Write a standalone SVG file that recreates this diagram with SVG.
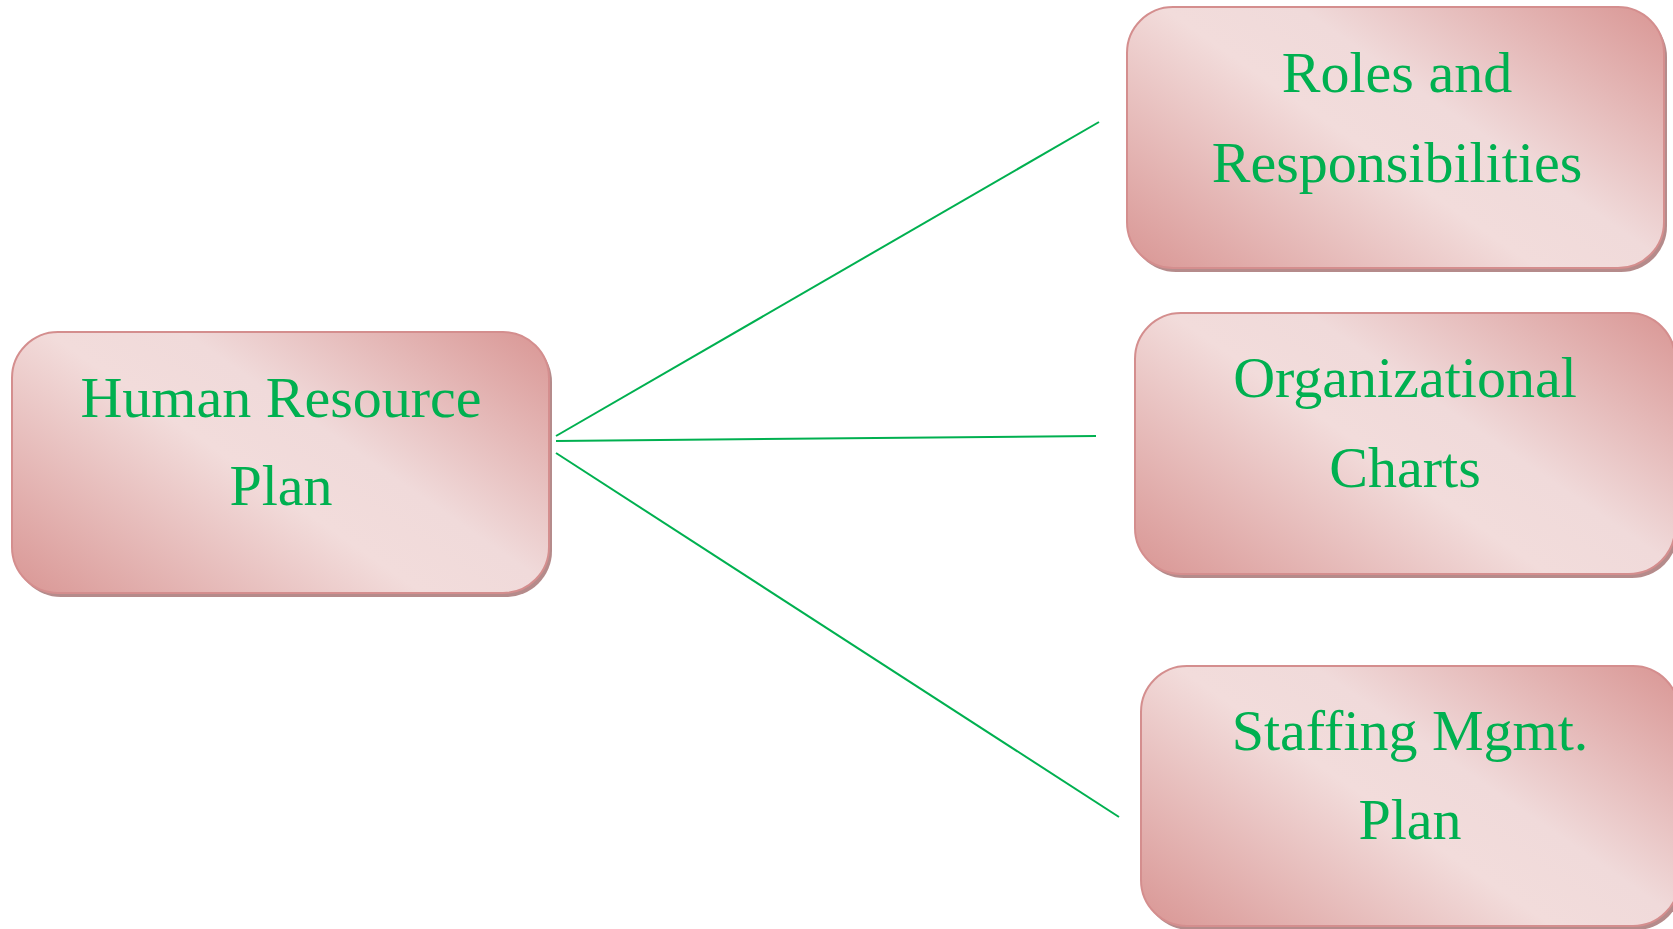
<svg xmlns="http://www.w3.org/2000/svg" width="1673" height="929" viewBox="0 0 1673 929">
<style>
.box{fill:url(#pinkGrad);stroke:#d48e8e;stroke-width:2}
.shadow{fill:#b58b8b}
.lbl{font-family:"Liberation Serif","Times New Roman",serif;font-size:58px;fill:#00b050;text-anchor:middle}
.conn{stroke:#00b050;stroke-width:2;fill:none}
</style>
<defs>
<linearGradient id="pinkGrad" x1="-0.07" y1="0.9" x2="1.07" y2="0.1">
<stop offset="0" stop-color="#d99694"/>
<stop offset="0.45" stop-color="#f2dcdb"/>
<stop offset="0.6" stop-color="#f0dada"/>
<stop offset="1" stop-color="#d99694"/>
</linearGradient>
</defs>
<rect width="1673" height="929" fill="#ffffff"/>
<g id="connectors">
<line class="conn" x1="556" y1="436" x2="1099" y2="122"/>
<line class="conn" x1="556" y1="441" x2="1096" y2="436"/>
<line class="conn" x1="556" y1="453" x2="1119" y2="817"/>
</g>
<g id="node-hr-plan">
<rect class="shadow" x="15" y="336" width="537" height="261" rx="46"/>
<rect class="box" x="12" y="332" width="537" height="261" rx="46"/>
<text class="lbl" x="281" y="417">Human Resource</text>
<text class="lbl" x="281" y="505">Plan</text>
</g>
<g id="node-roles">
<rect class="shadow" x="1130" y="11" width="537" height="261" rx="46"/>
<rect class="box" x="1127" y="7" width="537" height="261" rx="46"/>
<text class="lbl" x="1397" y="92">Roles and</text>
<text class="lbl" x="1397" y="182">Responsibilities</text>
</g>
<g id="node-org-charts">
<rect class="shadow" x="1138" y="317" width="540" height="261" rx="46"/>
<rect class="box" x="1135" y="313" width="540" height="261" rx="46"/>
<text class="lbl" x="1405" y="397">Organizational</text>
<text class="lbl" x="1405" y="487">Charts</text>
</g>
<g id="node-staffing">
<rect class="shadow" x="1144" y="670" width="538" height="260" rx="46"/>
<rect class="box" x="1141" y="666" width="538" height="260" rx="46"/>
<text class="lbl" x="1410" y="750">Staffing Mgmt.</text>
<text class="lbl" x="1410" y="839">Plan</text>
</g>
</svg>
